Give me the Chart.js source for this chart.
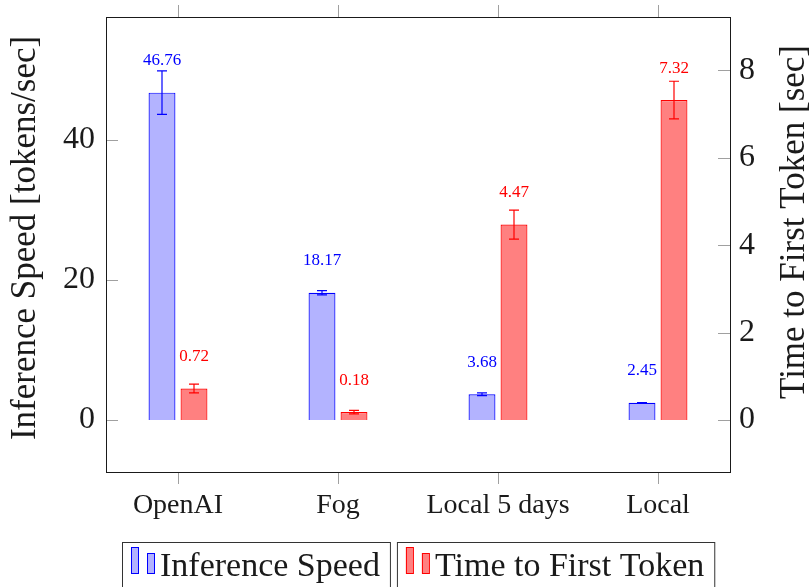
<!DOCTYPE html>
<html>
<head>
<title>Inference Speed vs Time to First Token</title>
<script src="https://cdn.jsdelivr.net/npm/chart.js"></script>
<style>
  body { margin: 0; background: #fff; }
  #wrap { width: 812px; height: 587px; }
</style>
</head>
<body>
<div id="wrap"><canvas id="chart"></canvas></div>
<script>
const categories = ["OpenAI", "Fog", "Local 5 days", "Local"];
const speed = [46.76, 18.17, 3.68, 2.45];
const speedErr = [3.1, 0.3, 0.2, 0.05];
const ttft = [0.72, 0.18, 4.47, 7.32];
const ttftErr = [0.1, 0.04, 0.33, 0.43];
const speedTicks = [0, 20, 40];
const ttftTicks = [0, 2, 4, 6, 8];
const yTitles = ["Inference Speed [tokens/sec]", "Time to First Token [sec]"];

const serif = "'Liberation Serif', 'DejaVu Serif', serif";
const ink = "#1a1a1a";
const tickGray = "#a0a0a0";

const catTicks = (axis) => { axis.ticks = categories.map((c, i) => ({ value: i })); };
const noPad = (s) => { s.paddingTop = 0; s.paddingBottom = 0; s.paddingLeft = 0; s.paddingRight = 0; };

// frame, inside ticks, error bars, value labels, axis titles, legend
const decor = {
  id: "decor",
  afterDatasetsDraw(chart) {
    const ctx = chart.ctx;
    const a = chart.chartArea;
    ctx.save();

    // inside ticks on both y axes
    ctx.strokeStyle = tickGray;
    ctx.lineWidth = 1;
    speedTicks.forEach((t) => {
      const y = Math.round(chart.scales.y.getPixelForValue(t)) + 0.5;
      ctx.beginPath(); ctx.moveTo(a.left, y); ctx.lineTo(a.left + 12, y); ctx.stroke();
    });
    ttftTicks.forEach((t) => {
      const y = Math.round(chart.scales.y2.getPixelForValue(t)) + 0.5;
      ctx.beginPath(); ctx.moveTo(a.right - 12, y); ctx.lineTo(a.right, y); ctx.stroke();
    });

    // frame
    ctx.strokeStyle = ink;
    ctx.strokeRect(Math.round(a.left) + 0.5, Math.round(a.top) + 0.5,
      Math.round(a.right - a.left), Math.round(a.bottom - a.top));

    // error bars + value labels
    const sets = [
      { meta: chart.getDatasetMeta(0), vals: speed, errs: speedErr, scale: chart.scales.y, color: "#0000ff" },
      { meta: chart.getDatasetMeta(1), vals: ttft, errs: ttftErr, scale: chart.scales.y2, color: "#ff0000" },
    ];
    sets.forEach((s) => {
      s.meta.data.forEach((el, i) => {
        const y1 = s.scale.getPixelForValue(s.vals[i] + s.errs[i]);
        const y2 = s.scale.getPixelForValue(s.vals[i] - s.errs[i]);
        ctx.strokeStyle = s.color;
        ctx.lineWidth = 1.2;
        ctx.beginPath();
        ctx.moveTo(el.x, y1); ctx.lineTo(el.x, y2);
        ctx.moveTo(el.x - 5, y1); ctx.lineTo(el.x + 5, y1);
        ctx.moveTo(el.x - 5, y2); ctx.lineTo(el.x + 5, y2);
        ctx.stroke();
        ctx.fillStyle = s.color;
        ctx.font = "17px " + serif;
        ctx.textAlign = "center";
        ctx.textBaseline = "middle";
        ctx.fillText(s.vals[i].toFixed(2), el.x, el.y - 32);
      });
    });

    // y axis titles, both reading bottom to top
    ctx.fillStyle = ink;
    ctx.font = "35px " + serif;
    ctx.textAlign = "center";
    ctx.textBaseline = "middle";
    [[26, 238, yTitles[0]], [795, 222, yTitles[1]]].forEach(([tx, ty, txt]) => {
      ctx.save();
      ctx.translate(tx, ty);
      ctx.rotate(-Math.PI / 2);
      ctx.fillText(txt, 0, 0);
      ctx.restore();
    });
    ctx.restore();

    // legend
    ctx.save();
    ctx.font = "34px " + serif;
    ctx.textBaseline = "alphabetic";
    ctx.textAlign = "left";
    let x = 122;
    chart.data.datasets.forEach((ds) => {
      const tw = ctx.measureText(ds.label).width;
      const w = 38 + tw + 10;
      ctx.strokeStyle = "#333";
      ctx.lineWidth = 1;
      ctx.strokeRect(x + 0.5, 542.5, w, 80);
      ctx.fillStyle = ds.backgroundColor;
      ctx.strokeStyle = ds.borderColor;
      ctx.fillRect(x + 9, 547, 7, 26);
      ctx.strokeRect(x + 9.5, 547.5, 7, 26);
      ctx.fillRect(x + 25, 553, 7, 20);
      ctx.strokeRect(x + 25.5, 553.5, 7, 20);
      ctx.fillStyle = ink;
      ctx.fillText(ds.label, x + 38, 576);
      x += w + 7;
    });
    ctx.restore();
  },
};

new Chart(document.getElementById("chart"), {
  type: "bar",
  data: {
    datasets: [
      {
        label: "Inference Speed",
        data: speed.map((v, i) => ({ x: i, y: v })),
        yAxisID: "y",
        backgroundColor: "#b3b3ff",
        borderColor: "#0000ff",
        borderWidth: 1.2,
      },
      {
        label: "Time to First Token",
        data: ttft.map((v, i) => ({ x: i, y: v })),
        yAxisID: "y2",
        backgroundColor: "#ff8080",
        borderColor: "#ff0000",
        borderWidth: 1.2,
      },
    ],
  },
  options: {
    responsive: true,
    maintainAspectRatio: false,
    animation: false,
    categoryPercentage: 0.4,
    barPercentage: 0.84,
    layout: { padding: 0 },
    plugins: { legend: { display: false }, tooltip: { enabled: false } },
    scales: {
      x: {
        type: "linear",
        position: "bottom",
        offset: false,
        min: -0.45,
        max: 3.45,
        afterBuildTicks: catTicks,
        afterFit: (s) => { s.height = 115; noPad(s); },
        grid: { offset: false, drawOnChartArea: false, tickLength: 12, tickColor: tickGray },
        border: { display: false },
        ticks: {
          padding: 5,
          color: ink,
          font: { family: serif, size: 28 },
          callback: (v) => categories[v],
        },
      },
      xTop: {
        type: "linear",
        position: "top",
        offset: false,
        min: -0.45,
        max: 3.45,
        afterBuildTicks: catTicks,
        afterFit: (s) => { s.height = 17; noPad(s); },
        grid: { offset: false, drawOnChartArea: false, tickLength: 12, tickColor: tickGray },
        border: { display: false },
        ticks: { display: false },
      },
      y: {
        position: "left",
        min: -7.43,
        max: 57.57,
        afterBuildTicks: (axis) => { axis.ticks = speedTicks.map((v) => ({ value: v })); },
        afterFit: (s) => { s.width = 106; noPad(s); },
        grid: { display: false, drawTicks: false },
        border: { display: false },
        ticks: { padding: 11, color: ink, font: { family: serif, size: 32 } },
      },
      y2: {
        position: "right",
        min: -1.19,
        max: 9.22,
        afterBuildTicks: (axis) => { axis.ticks = ttftTicks.map((v) => ({ value: v })); },
        afterFit: (s) => { s.width = 82; noPad(s); },
        grid: { display: false, drawTicks: false },
        border: { display: false },
        ticks: { padding: 9, color: ink, font: { family: serif, size: 32 } },
      },
    },
  },
  plugins: [decor],
});
</script>
</body>
</html>
